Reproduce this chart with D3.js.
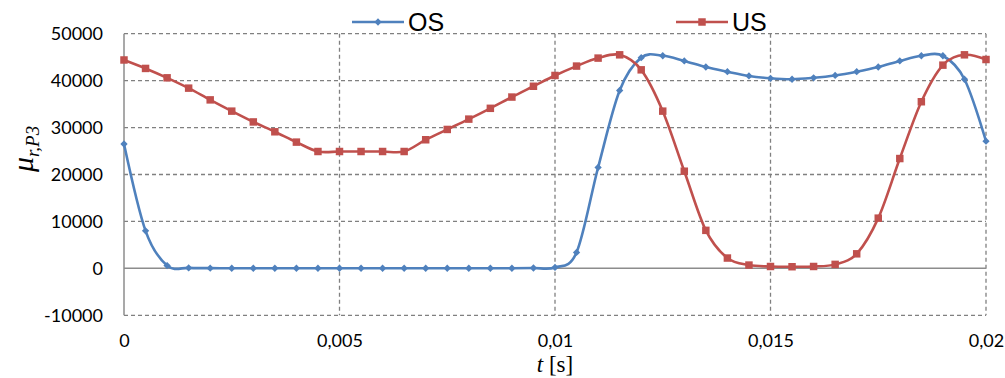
<!DOCTYPE html>
<html>
<head>
<meta charset="utf-8">
<script src="https://cdn.jsdelivr.net/npm/d3@7/dist/d3.min.js"></script>
<style>
  html, body { margin: 0; padding: 0; background: #fff; }
  svg { display: block; }
</style>
</head>
<body>
<svg id="chart" width="1005" height="378"></svg>
<script>
// Time samples [s], step 0.0005 s
const time = d3.range(41).map(i => +(i * 0.0005).toFixed(4));

// Relative permeability, overshoot case
const osValues = [
  26500, 8000, 600, 100, 50, 30, 20, 20, 20, 20,
  20, 20, 20, 20, 20, 20, 20, 20, 30, 80,
  200, 3400, 21500, 37900, 44900, 45300, 44200, 42900, 41900, 41000,
  40500, 40300, 40600, 41100, 41900, 42900, 44200, 45300, 45300, 40300,
  27100
];

// Relative permeability, undershoot case
const usValues = [
  44400, 42600, 40600, 38400, 35900, 33500, 31200, 29100, 26900, 24900,
  24900, 24900, 24900, 24900, 27400, 29600, 31800, 34100, 36500, 38800,
  41100, 43100, 44800, 45500, 42300, 33500, 20700, 8100, 2200, 700,
  400, 350, 400, 850, 3100, 10700, 23400, 35500, 43300, 45500,
  44500
];

const seriesNames = ["OS", "US"];
const xTicks = [0, 0.005, 0.01, 0.015, 0.02];
const xTickLabels = ["0", "0,005", "0,01", "0,015", "0,02"];
const yTicks = [-10000, 0, 10000, 20000, 30000, 40000, 50000];

const colors = { OS: "#4F81BD", US: "#C0504D" };
const gridColor = "#808080";
const axisColor = "#8c8c8c";

const svg = d3.select("#chart");
const x = d3.scaleLinear().domain([0, 0.02]).range([124, 986]);
const y = d3.scaleLinear().domain([-10000, 50000]).range([315.3, 33.7]);

const tickFont = "Lato, 'Open Sans', sans-serif";

// Horizontal dashed grid
svg.append("g")
  .selectAll("line")
  .data(yTicks.filter(v => v !== 0))
  .join("line")
  .attr("x1", x(0)).attr("x2", x(0.02))
  .attr("y1", d => y(d)).attr("y2", d => y(d))
  .attr("stroke", gridColor).attr("stroke-width", 1.3)
  .attr("stroke-dasharray", "4,3");

// Vertical dashed grid
svg.append("g")
  .selectAll("line")
  .data(xTicks.filter(v => v !== 0))
  .join("line")
  .attr("x1", d => x(d)).attr("x2", d => x(d))
  .attr("y1", y(50000)).attr("y2", y(-10000))
  .attr("stroke", gridColor).attr("stroke-width", 1.3)
  .attr("stroke-dasharray", "4,3");

// Zero line and vertical axis
svg.append("line")
  .attr("x1", x(0)).attr("x2", x(0.02))
  .attr("y1", y(0)).attr("y2", y(0))
  .attr("stroke", axisColor).attr("stroke-width", 1.5);
svg.append("line")
  .attr("x1", x(0)).attr("x2", x(0))
  .attr("y1", y(50000)).attr("y2", y(-10000))
  .attr("stroke", axisColor).attr("stroke-width", 1.5);

// Y tick labels
const yAxis = d3.axisLeft(y).tickValues(yTicks).tickSize(0).tickPadding(21)
  .tickFormat(d => String(d));
const gy = svg.append("g").attr("transform", `translate(${x(0)},0)`).call(yAxis);
gy.select(".domain").remove();
gy.selectAll("text")
  .attr("font-family", tickFont).attr("font-size", 18).attr("fill", "#000");

// X tick labels
const xAxis = d3.axisBottom(x).tickValues(xTicks).tickSize(0).tickPadding(19)
  .tickFormat((d, i) => xTickLabels[i]);
const gx = svg.append("g").attr("transform", `translate(0,${y(-10000)})`).call(xAxis);
gx.select(".domain").remove();
gx.selectAll("text")
  .attr("font-family", tickFont).attr("font-size", 18).attr("fill", "#000");

// Series
const series = [
  { name: "OS", values: osValues },
  { name: "US", values: usValues }
];
const line = d3.line()
  .x((d, i) => x(time[i]))
  .y(d => y(d))
  .curve(d3.curveCatmullRom.alpha(0));

const diamond = d3.symbol().type(d3.symbolDiamond2).size(34);
const square = d3.symbol().type(d3.symbolSquare).size(56);

series.forEach(s => {
  const g = svg.append("g");
  g.append("path")
    .datum(s.values)
    .attr("d", line)
    .attr("fill", "none")
    .attr("stroke", colors[s.name])
    .attr("stroke-width", 2.6);
  g.selectAll("path.marker")
    .data(s.values)
    .join("path")
    .attr("class", "marker")
    .attr("transform", (d, i) => `translate(${x(time[i])},${y(d)})`)
    .attr("d", s.name === "OS" ? diamond : square)
    .attr("fill", colors[s.name]);
});

// Legend
const legendItems = [
  { name: "OS", x0: 352, x1: 404, tx: 408 },
  { name: "US", x0: 676, x1: 728, tx: 732 }
];
const legendY = 22;
legendItems.forEach(it => {
  svg.append("line")
    .attr("x1", it.x0).attr("x2", it.x1)
    .attr("y1", legendY).attr("y2", legendY)
    .attr("stroke", colors[it.name]).attr("stroke-width", 2.6);
  svg.append("path")
    .attr("transform", `translate(${(it.x0 + it.x1) / 2},${legendY})`)
    .attr("d", it.name === "OS" ? diamond : square)
    .attr("fill", colors[it.name]);
  svg.append("text")
    .attr("x", it.tx).attr("y", legendY + 9)
    .attr("font-family", "'Liberation Sans', Arial, sans-serif")
    .attr("font-size", 25)
    .attr("fill", "#000")
    .text(it.name);
});

// X axis title: t [s]
const xt = svg.append("text")
  .attr("x", 555).attr("y", 372)
  .attr("text-anchor", "middle")
  .attr("font-family", "'Liberation Serif', 'Times New Roman', serif")
  .attr("font-size", 23)
  .attr("fill", "#000");
xt.append("tspan").attr("font-style", "italic").text("t");
xt.append("tspan").text(" [s]");

// Y axis title: μ_{r,P3}
const yt = svg.append("text")
  .attr("transform", "translate(33,172) rotate(-90)")
  .attr("font-family", "'Liberation Serif', 'Times New Roman', serif")
  .attr("font-style", "italic")
  .attr("fill", "#000");
yt.append("tspan").attr("font-size", 30).text("μ");
yt.append("tspan").attr("font-size", 19).attr("dy", 6).text("r,P3");
</script>
</body>
</html>
